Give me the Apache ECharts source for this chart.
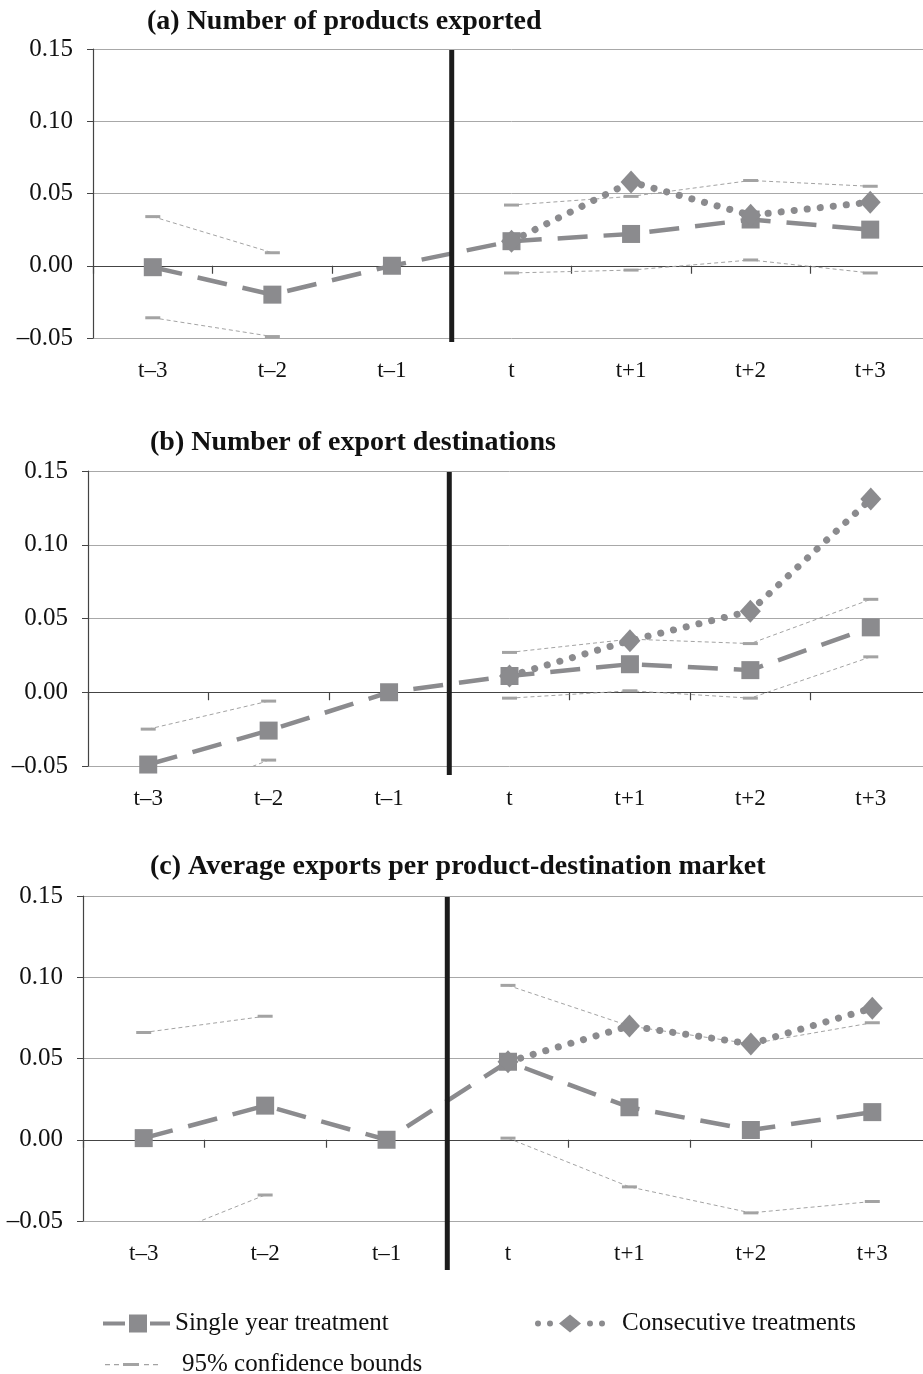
<!DOCTYPE html>
<html>
<head>
<meta charset="utf-8">
<script src="https://cdn.jsdelivr.net/npm/echarts@6/dist/echarts.min.js"></script>
<style>
  html, body { margin: 0; padding: 0; background: #fff; overflow: hidden; }
  /* plot area runs past the right edge of the page, as in the original */
  #chart { width: 940px; height: 1374px; }
</style>
</head>
<body>
<div id="chart"></div>
<script>
// periods around the treatment year
const periods = ['t\u20133', 't\u20132', 't\u20131', 't', 't+1', 't+2', 't+3'];
const yTicks = { min: -0.05, max: 0.15, step: 0.05 };

// (a) number of products exported
const singleA = [-0.001, -0.020, 0, 0.017, 0.022, 0.032, 0.025];
const consecA = [null, null, null, 0.017, 0.058, 0.035, 0.044];
const upperA = [0.034, 0.009, null, 0.042, 0.048, 0.059, 0.055];
const lowerA = [-0.036, -0.049, null, -0.005, -0.003, 0.004, -0.005];

// (b) number of export destinations
const singleB = [-0.049, -0.026, 0, 0.011, 0.019, 0.015, 0.044];
const consecB = [null, null, null, 0.011, 0.035, 0.055, 0.131];
const upperB = [-0.025, -0.006, null, 0.027, 0.036, 0.033, 0.063];
const lowerB = [-0.078, -0.046, null, -0.004, 0.001, -0.004, 0.024];

// (c) average exports per product-destination market
const singleC = [0.001, 0.021, 0, 0.048, 0.020, 0.006, 0.017];
const consecC = [null, null, null, 0.048, 0.070, 0.059, 0.081];
const upperC = [0.066, 0.076, null, 0.095, 0.070, 0.059, 0.072];
const lowerC = [-0.064, -0.034, null, 0.001, -0.029, -0.045, -0.038];

const titles = [
  '(a) Number of products exported',
  '(b) Number of export destinations',
  '(c) Average exports per product-destination market'
];
const panels = [
  { single: singleA, consec: consecA, upper: upperA, lower: lowerA },
  { single: singleB, consec: consecB, upper: upperB, lower: lowerB },
  { single: singleC, consec: consecC, upper: upperC, lower: lowerC }
];

const NAME_SINGLE = 'Single year treatment';
const NAME_CONSEC = 'Consecutive treatments';
const NAME_CI = '95% confidence bounds';

// layout of each panel
const grids = [
  { left: 93, top: 49, width: 837, height: 289, titleTop: 8, titleLeft: 147, lineExtra: 4 },
  { left: 88, top: 471, width: 843, height: 295, titleTop: 429, titleLeft: 150, lineExtra: 9 },
  { left: 83, top: 896, width: 850, height: 325, titleTop: 853, titleLeft: 150, lineExtra: 49 }
];

const SERIF = '"Liberation Serif", "DejaVu Serif", serif';
const GRAY = '#8b8b8e';
const CI_GRAY = '#a3a3a3';

function fmtTick(v) {
  const s = Math.abs(v).toFixed(2);
  return v < -1e-9 ? '\u2013' + s : s;
}

let option = {
  animation: false,
  backgroundColor: '#fff',
  title: [],
  grid: [],
  xAxis: [],
  yAxis: [],
  series: [],
  legend: [
    {
      left: 98, top: 1306, itemWidth: 67, itemHeight: 18, itemGap: 0,
      data: [{ name: NAME_SINGLE, icon: 'path://M0,7h22v4h-22z M26,0h18v18h-18z M47,7h20v4h-20z' }],
      textStyle: { fontFamily: SERIF, fontSize: 25, color: '#111', padding: [0, 0, 0, 0] }
    },
    {
      left: 530, top: 1306, itemWidth: 70, itemHeight: 18, itemGap: 0,
      data: [{ name: NAME_CONSEC, icon: 'path://M0,9a3,3 0 1,0 6,0a3,3 0 1,0 -6,0z M12,9a3,3 0 1,0 6,0a3,3 0 1,0 -6,0z M35,0L46,9L35,18L24,9z M52,9a3,3 0 1,0 6,0a3,3 0 1,0 -6,0z M64,9a3,3 0 1,0 6,0a3,3 0 1,0 -6,0z' }],
      textStyle: { fontFamily: SERIF, fontSize: 25, color: '#111', padding: [0, 0, 0, 12] }
    },
    {
      left: 100, top: 1347, itemWidth: 57, itemHeight: 3, itemGap: 0,
      data: [{ name: NAME_CI, icon: 'path://M0,1h5v1.3h-5z M9,1h5v1.3h-5z M18,0h16v3h-16z M39,1h5v1.3h-5z M48,1h5v1.3h-5z' }],
      textStyle: { fontFamily: SERIF, fontSize: 25, color: '#111', padding: [0, 0, 0, 17] }
    }
  ]
};

panels.forEach(function (p, i) {
  const g = grids[i];
  option.title.push({
    text: titles[i], left: g.titleLeft, top: g.titleTop, padding: 0,
    textStyle: { fontFamily: SERIF, fontWeight: 'bold', fontSize: 28, color: '#111' }
  });
  option.grid.push({ left: g.left, top: g.top, width: g.width, height: g.height, containLabel: false });
  option.xAxis.push({
    type: 'category', gridIndex: i, data: periods, boundaryGap: true,
    axisLine: { show: true, lineStyle: { color: '#444', width: 1.2 } },
    axisTick: { show: true, length: 8, lineStyle: { color: '#444', width: 1.2 } },
    axisLabel: { fontFamily: SERIF, fontSize: 23, color: '#111', margin: 21 },
    splitLine: { show: false }
  });
  option.yAxis.push({
    type: 'value', gridIndex: i, min: yTicks.min, max: yTicks.max, interval: yTicks.step,
    axisLine: { show: true, lineStyle: { color: '#444', width: 1.2 } },
    axisTick: { show: true, length: 6, lineStyle: { color: '#444' } },
    axisLabel: { fontFamily: SERIF, fontSize: 25, color: '#111', margin: 20, formatter: fmtTick },
    splitLine: { show: true, lineStyle: { color: '#a8a8a8', width: 1 } }
  });

  // confidence bounds
  [p.upper, p.lower].forEach(function (vals) {
    option.series.push({
      name: NAME_CI, type: 'line', xAxisIndex: i, yAxisIndex: i, data: vals,
      connectNulls: false, clip: true, z: 2,
      symbol: 'rect', symbolSize: [15, 3], showSymbol: true,
      itemStyle: { color: CI_GRAY },
      lineStyle: { color: CI_GRAY, width: 1, type: [4, 3] }
    });
  });

  // single year treatment
  option.series.push({
    name: NAME_SINGLE, type: 'line', xAxisIndex: i, yAxisIndex: i, data: p.single,
    clip: true, z: 3,
    symbol: 'rect', symbolSize: 18,
    itemStyle: { color: GRAY },
    lineStyle: { color: GRAY, width: 4.5, type: [30, 16] }
  });

  // consecutive treatments
  option.series.push({
    name: NAME_CONSEC, type: 'line', xAxisIndex: i, yAxisIndex: i, data: p.consec,
    clip: true, z: 4,
    symbol: 'diamond', symbolSize: [21, 23],
    itemStyle: { color: GRAY },
    lineStyle: { color: GRAY, width: 7, type: [0.1, 13], cap: 'round' }
  });
});

const chart = echarts.init(document.getElementById('chart'), null, { renderer: 'canvas' });
chart.setOption(option);

// thick treatment marker between t-1 and t, placed with the axes' own scales
let marks = [];
grids.forEach(function (g, i) {
  const x1 = chart.convertToPixel({ xAxisIndex: i }, periods[2]);
  const x2 = chart.convertToPixel({ xAxisIndex: i }, periods[3]);
  const yTop = chart.convertToPixel({ yAxisIndex: i }, yTicks.max);
  const yBot = chart.convertToPixel({ yAxisIndex: i }, yTicks.min);
  const x = (x1 + x2) / 2;
  marks.push({
    type: 'line', z: 100,
    shape: { x1: x, y1: yTop + 1, x2: x, y2: yBot + g.lineExtra },
    style: { stroke: '#1c1c1c', lineWidth: 5 }
  });
});
chart.setOption({ graphic: marks });
</script>
</body>
</html>
